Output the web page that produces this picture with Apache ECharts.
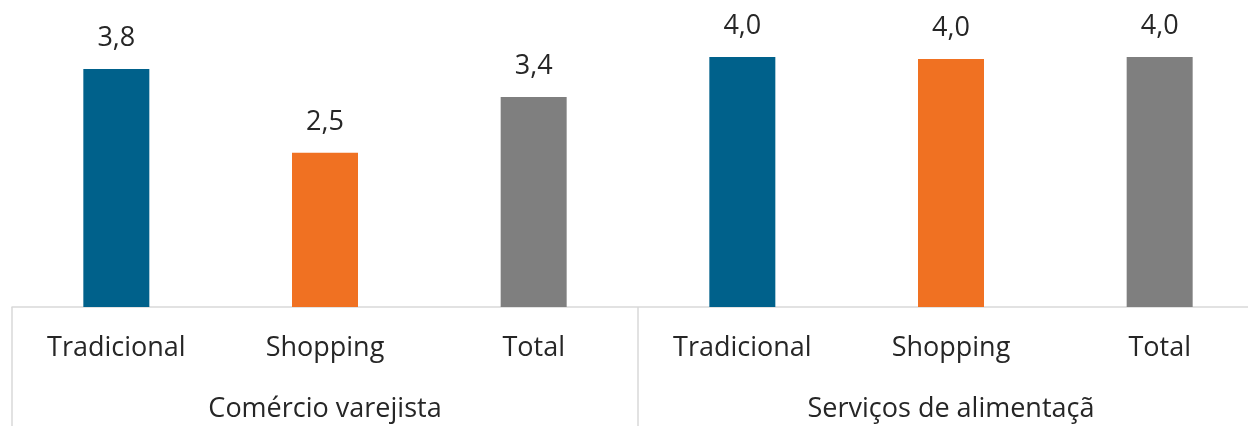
<!DOCTYPE html>
<html>
<head>
<meta charset="utf-8">
<script src="https://cdn.jsdelivr.net/npm/echarts@6/dist/echarts.min.js"></script>
<style>
  html, body { margin: 0; padding: 0; background: #fff; overflow: hidden; }
  /* the plot runs past the right edge of the window, as in the source picture */
  #chart { width: 1264px; height: 426px; }
</style>
</head>
<body>
<div id="chart"></div>
<script>
// sub categories (bars) and the groups they belong to
const categories = ['Tradicional', 'Shopping', 'Total', 'Tradicional', 'Shopping', 'Total']
const groups = ['Comércio varejista', 'Serviços de alimentaçã']
const values = [3.81, 2.47, 3.36, 4.0, 3.97, 4.0]
const barColors = ['#00618b', '#f07122', '#7f7f7f', '#00618b', '#f07122', '#7f7f7f']

const font = 'Open Sans'
const textColor = '#262626'
const lineColor = '#d9d9d9'

const chart = echarts.init(document.getElementById('chart'))

chart.setOption({
  animation: false,
  grid: { left: 12, right: 0, top: 32, bottom: 119 },
  xAxis: [
    {
      type: 'category',
      data: categories,
      axisLine: { lineStyle: { color: lineColor, width: 1.5 } },
      axisTick: { show: false },
      axisLabel: { color: textColor, fontFamily: font, fontSize: 27, margin: 28, interval: 0 }
    },
    {
      type: 'category',
      data: groups,
      position: 'bottom',
      axisLine: { show: false },
      axisTick: { show: true, length: 122, lineStyle: { color: lineColor, width: 1.5 } },
      axisLabel: { color: textColor, fontFamily: font, fontSize: 27, margin: 89, interval: 0 }
    }
  ],
  yAxis: { type: 'value', min: 0, max: 4.4, show: false },
  series: [
    {
      type: 'bar',
      xAxisIndex: 0,
      barWidth: 66,
      data: values.map((v, i) => ({ value: v, itemStyle: { color: barColors[i] } })),
      label: {
        show: true,
        position: 'top',
        distance: 17,
        color: textColor,
        fontFamily: font,
        fontSize: 27,
        formatter: (p) => p.value.toFixed(1).replace('.', ',')
      }
    }
  ]
})
</script>
</body>
</html>
